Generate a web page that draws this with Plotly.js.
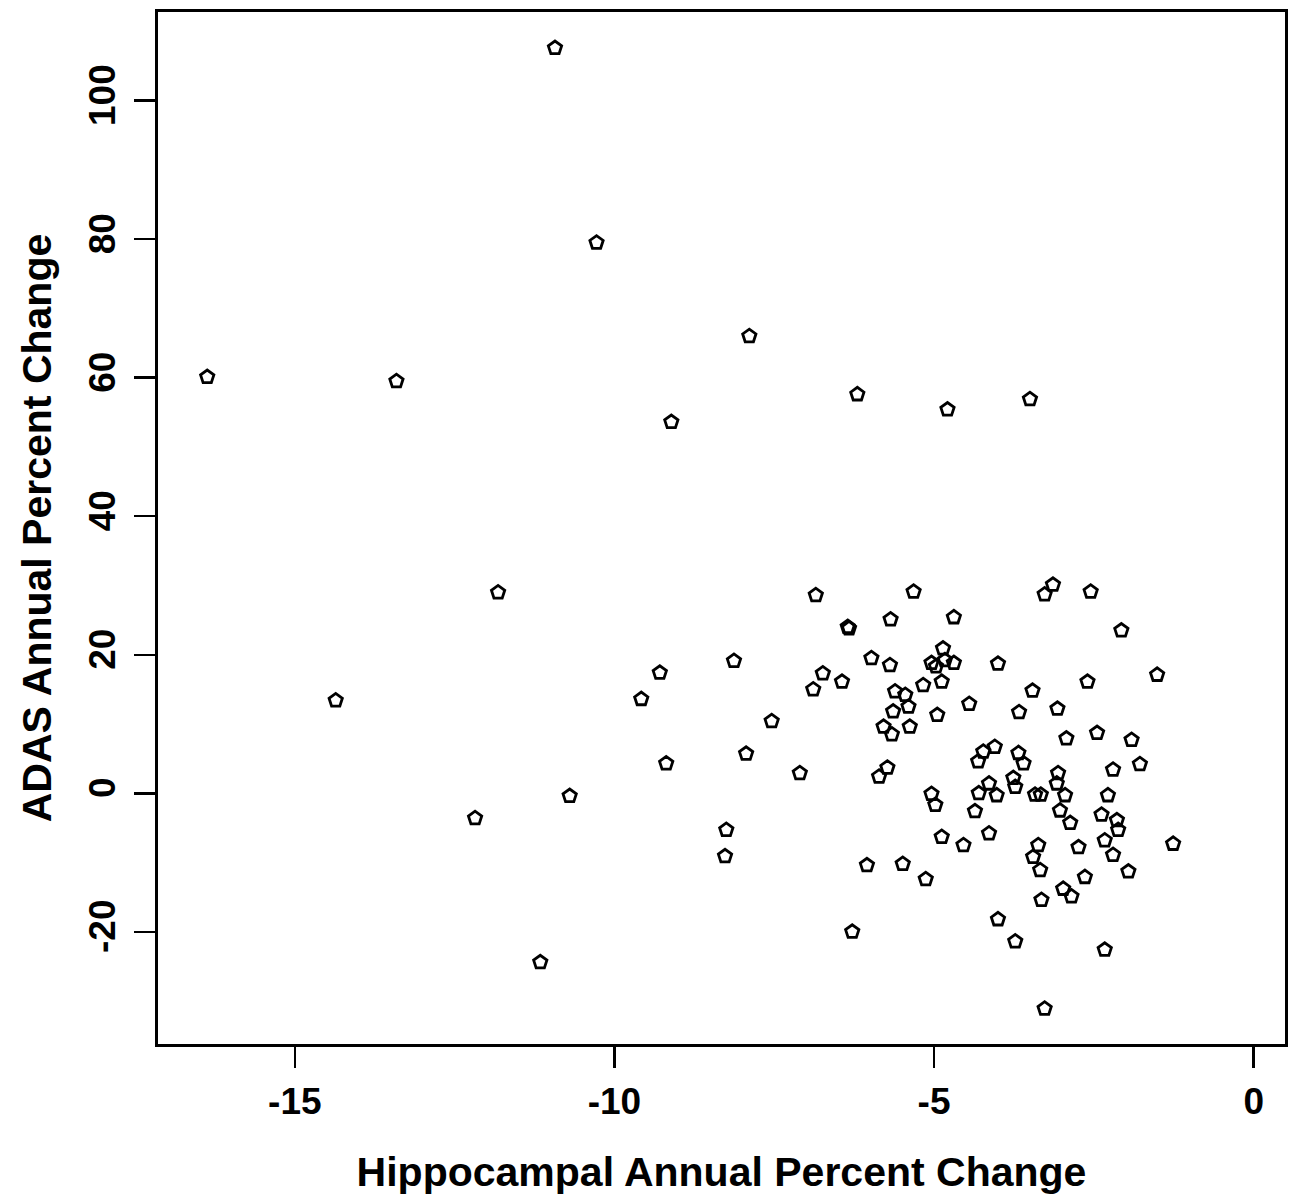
<!DOCTYPE html>
<html>
<head>
<meta charset="utf-8">
<script src="https://cdn.plot.ly/plotly-3.0.1.min.js"></script>
<style>html,body{margin:0;padding:0;background:#fff;}#chart{width:1305px;height:1197px;}</style>
</head>
<body>
<div id="chart"></div>
<script>
// Hippocampal annual percent change (x) vs ADAS annual percent change (y)
const hippocampalChange = [
  -10.93, -10.28, -7.89, -16.37, -13.41, -6.20, -4.79, -3.50, -9.11, -11.82,
  -14.36, -9.29, -9.58, -9.19, -10.70, -12.18, -11.16,
  -6.85, -5.32, -6.35, -6.33, -5.68, -4.69, -8.13, -5.98, -5.69, -4.86,
  -5.04, -4.97, -4.83, -4.69, -6.74, -6.89, -6.44, -5.17, -4.88, -4.00,
  -5.61, -5.45, -5.40, -5.64, -4.45, -4.95, -7.54, -5.79, -5.66, -5.38,
  -7.94, -7.10, -5.86, -5.73, -5.04,
  -3.14, -3.27, -2.55, -2.07, -1.51, -2.60, -3.46, -3.67, -3.07, -2.93,
  -2.45, -1.91, -1.78, -2.20, -4.05, -4.23, -4.31, -3.68, -3.60, -3.76,
  -3.73, -4.14, -4.30, -4.02, -3.06, -3.08, -2.95, -3.42, -3.33, -2.28,
  -3.03, -2.87, -2.38, -2.14, -2.12, -2.33, -2.20, -1.96, -1.26, -4.14,
  -2.74, -3.37, -3.45, -3.34, -2.64, -3.32, -2.98, -2.85, -4.00, -3.73,
  -2.33, -3.27,
  -4.98, -4.36, -4.88, -4.54, -8.25, -8.27, -6.05, -5.49, -5.13, -6.28
];
const adasChange = [
  107.6, 79.5, 66.0, 60.1, 59.5, 57.6, 55.4, 56.9, 53.6, 29.0,
  13.4, 17.4, 13.6, 4.3, -0.4, -3.6, -24.4,
  28.6, 29.1, 24.0, 23.8, 25.1, 25.4, 19.1, 19.5, 18.5, 20.9,
  18.8, 18.3, 19.2, 18.8, 17.3, 15.0, 16.1, 15.6, 16.1, 18.7,
  14.7, 14.2, 12.5, 11.8, 12.9, 11.3, 10.4, 9.6, 8.5, 9.6,
  5.7, 2.9, 2.4, 3.7, -0.1,
  30.1, 28.7, 29.1, 23.5, 17.1, 16.1, 14.8, 11.7, 12.2, 7.9,
  8.7, 7.7, 4.2, 3.4, 6.7, 6.0, 4.6, 5.8, 4.3, 2.2,
  0.9, 1.4, 0.0, -0.3, 2.9, 1.4, -0.3, -0.2, -0.2, -0.3,
  -2.5, -4.3, -3.1, -3.9, -5.3, -6.8, -8.9, -11.3, -7.3, -5.8,
  -7.8, -7.5, -9.2, -11.1, -12.1, -15.4, -13.8, -14.9, -18.2, -21.4,
  -22.6, -31.1,
  -1.7, -2.6, -6.3, -7.5, -5.3, -9.1, -10.4, -10.2, -12.4, -20.0
];
const xTickValues = [-15, -10, -5, 0];
const yTickValues = [-20, 0, 20, 40, 60, 80, 100];

const trace = {
  type: 'scatter',
  mode: 'markers',
  x: hippocampalChange,
  y: adasChange,
  marker: {
    symbol: 'pentagon-open',
    size: 14,
    color: '#000',
    line: {color: '#000', width: 2.8}
  },
  hoverinfo: 'x+y'
};

const tickFont = {family: 'Liberation Sans, Arial, sans-serif', size: 37, color: '#000', weight: 'bold'};
const titleFont = {family: 'Liberation Sans, Arial, sans-serif', size: 41, color: '#000', weight: 'bold'};

const layout = {
  width: 1305,
  height: 1197,
  margin: {l: 158, r: 20, t: 12, b: 153},
  paper_bgcolor: '#fff',
  plot_bgcolor: '#fff',
  showlegend: false,
  font: {family: 'Liberation Sans, Arial, sans-serif', color: '#000'},
  xaxis: {
    range: [-17.14, 0.49],
    tickmode: 'array',
    tickvals: xTickValues,
    ticktext: xTickValues.map(String),
    ticks: 'outside',
    ticklen: 21,
    tickwidth: 2.5,
    tickcolor: '#000',
    tickfont: tickFont,
    ticklabelstandoff: 2,
    showgrid: false,
    zeroline: false,
    showline: true,
    linecolor: '#000',
    linewidth: 3,
    mirror: true,
    title: {text: 'Hippocampal Annual Percent Change', font: titleFont, standoff: 36}
  },
  yaxis: {
    range: [-36.2, 112.8],
    tickmode: 'array',
    tickvals: yTickValues,
    ticktext: yTickValues.map(String),
    ticks: 'outside',
    ticklen: 21,
    tickwidth: 2.5,
    tickcolor: '#000',
    tickangle: -90,
    tickfont: tickFont,
    ticklabelstandoff: 4,
    showgrid: false,
    zeroline: false,
    showline: true,
    linecolor: '#000',
    linewidth: 3,
    mirror: true,
    title: {text: 'ADAS Annual Percent Change', font: titleFont, standoff: 18}
  }
};

Plotly.newPlot('chart', [trace], layout, {staticPlot: true, displayModeBar: false});
</script>
</body>
</html>
